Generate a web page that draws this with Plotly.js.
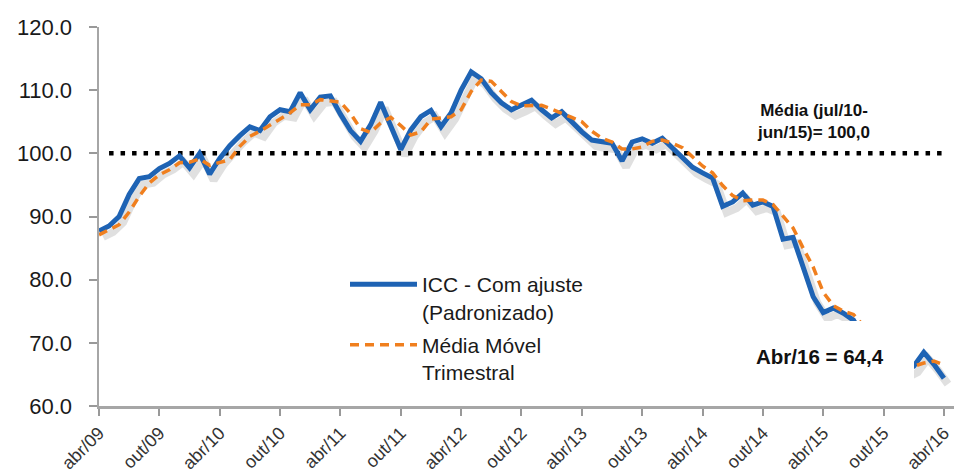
<!DOCTYPE html>
<html>
<head>
<meta charset="utf-8">
<script src="https://cdn.plot.ly/plotly-3.0.1.min.js"></script>
<style>html,body{margin:0;padding:0;background:#fff;}#chart{width:957px;height:475px;}</style>
</head>
<body>
<div id="chart"></div>
<script>
// Monthly categories from abr/09 to abr/16
const monthNames = ['jan','fev','mar','abr','mai','jun','jul','ago','set','out','nov','dez'];
const months = [];
for (let i = 0; i < 85; i++) {
  const mi = (3 + i) % 12;
  const yy = 9 + Math.floor((3 + i) / 12);
  months.push(monthNames[mi] + '/' + (yy < 10 ? '0' + yy : '' + yy));
}
const tickLabels = ['abr/09','out/09','abr/10','out/10','abr/11','out/11','abr/12','out/12','abr/13','out/13','abr/14','out/14','abr/15','out/15','abr/16'];

const iccAjuste = [87.7,88.5,90.0,93.5,96.0,96.3,97.6,98.4,99.6,97.7,
  100.0,96.7,99.2,101.2,102.8,104.2,103.6,105.8,106.9,106.6,
  109.6,106.9,108.9,109.1,106.2,103.6,101.9,104.5,108.1,104.5,
  100.6,103.7,105.8,106.8,104.2,106.4,110.0,112.9,111.8,109.6,
  108.0,106.9,107.6,108.4,106.9,105.6,106.6,105.0,103.4,102.1,
  101.8,101.6,98.8,101.8,102.3,101.6,102.4,100.9,99.4,97.8,
  96.9,96.1,91.6,92.3,93.7,91.8,92.3,91.6,86.4,86.7,
  82.0,77.3,74.8,75.5,74.7,73.6,70.8,69.8,68.3,67.0,
  65.5,66.3,68.5,66.6,64.4];

const mediaMovel = [87.1,87.9,88.7,90.7,93.2,95.3,96.6,97.4,98.5,98.6,
  99.1,98.1,98.6,99.0,101.1,102.7,103.5,104.5,105.4,106.4,
  107.7,107.7,108.5,108.3,108.1,106.3,103.9,103.3,104.8,105.7,
  104.4,102.9,103.4,105.4,105.6,105.8,106.9,109.8,111.6,111.4,
  109.8,108.2,107.5,107.6,107.6,107.0,106.4,105.7,105.0,103.5,
  102.4,101.8,100.7,100.7,101.0,101.9,102.1,101.6,100.9,99.4,
  98.0,96.9,94.9,93.3,92.5,92.6,92.6,91.9,90.1,88.2,
  85.0,82.0,78.0,75.9,75.0,74.5,72.7,71.4,69.6,68.4,
  67.0,66.3,66.8,67.1,66.5];

const mediaRef = 100.0;

const BLUE = '#1E63B4';
const ORANGE = '#F07F1E';
const fontFam = 'Arial, "Liberation Sans", sans-serif';

const traces = [
  { // reference line (bottom layer)
    x: [months[1], months[months.length - 1]],
    y: [mediaRef, mediaRef],
    type: 'scatter', mode: 'lines',
    line: {color: '#000', width: 4.5, dash: '4.5px,7px'},
    showlegend: false, hoverinfo: 'skip',
    xaxis: 'x', yaxis: 'y'
  },
  { // shadow of the main line
    x: months, y: iccAjuste,
    type: 'scatter', mode: 'lines',
    line: {color: 'rgba(0,0,0,0.12)', width: 8},
    showlegend: false, hoverinfo: 'skip',
    xaxis: 'x2', yaxis: 'y2'
  },
  {
    x: months, y: iccAjuste,
    name: 'ICC - Com ajuste<br>(Padronizado)',
    legendgroup: 'a',
    type: 'scatter', mode: 'lines',
    line: {color: BLUE, width: 5},
    xaxis: 'x3', yaxis: 'y3'
  },
  {
    x: months, y: mediaMovel,
    name: 'Média Móvel<br>Trimestral',
    legendgroup: 'b',
    type: 'scatter', mode: 'lines',
    line: {color: ORANGE, width: 3.5, dash: '9px,6px'},
    xaxis: 'x3', yaxis: 'y3'
  }
];

const xr = [0, 85];
const yr = [60, 120];
const hiddenX = {type: 'category', categoryarray: months, visible: false, overlaying: 'x', fixedrange: true};
const hiddenY = {visible: false, overlaying: 'y', fixedrange: true};

const layout = {
  width: 957, height: 475,
  margin: {l: 99, r: 3, t: 27, b: 69},
  paper_bgcolor: '#fff', plot_bgcolor: '#fff',
  font: {family: fontFam, color: '#1a1a1a'},
  showlegend: true,
  legend: {
    x: (345 - 99) / 855, y: (406 - 264) / 379,
    xanchor: 'left', yanchor: 'top',
    bgcolor: 'rgba(255,255,255,0)',
    font: {family: fontFam, size: 21, color: '#1a1a1a'},
    valign: 'top', itemwidth: 67, tracegroupgap: 3
  },
  xaxis: {
    type: 'category', categoryarray: months, range: xr,
    tickmode: 'array', tickvals: tickLabels, ticktext: tickLabels,
    tickangle: -45, ticks: 'outside', ticklen: 7, tickwidth: 2, tickcolor: '#999',
    showline: true, linecolor: '#a6a6a6', linewidth: 2.5,
    showgrid: false, zeroline: false,
    tickfont: {family: fontFam, size: 18, color: '#333'},
    fixedrange: true
  },
  yaxis: {
    range: yr, tickmode: 'array', tickvals: [60,70,80,90,100,110,120],
    tickformat: '.1f',
    ticks: 'outside', ticklen: 8, tickwidth: 2, tickcolor: '#999',
    showline: true, linecolor: '#a6a6a6', linewidth: 2.5,
    showgrid: false, zeroline: false,
    ticklabelstandoff: 12,
    tickfont: {family: fontFam, size: 22, color: '#1a1a1a'},
    fixedrange: true
  },
  xaxis2: Object.assign({}, hiddenX, {range: [xr[0] - 0.4, xr[1] - 0.4]}),
  yaxis2: Object.assign({}, hiddenY, {range: [yr[0] + 0.95, yr[1] + 0.95]}),
  xaxis3: Object.assign({}, hiddenX, {range: xr}),
  yaxis3: Object.assign({}, hiddenY, {range: yr}),
  annotations: [
    {
      xref: 'paper', yref: 'paper',
      x: (813 - 99) / 855, y: (406 - 121) / 379,
      xanchor: 'center', yanchor: 'middle',
      text: '<b>Média (jul/10-<br>jun/15)= 100,0</b>',
      showarrow: false, align: 'center',
      font: {family: fontFam, size: 17, color: '#111'}
    },
    {
      xref: 'paper', yref: 'paper',
      x: (750 - 99) / 855, y: (406 - 355.5) / 379,
      xanchor: 'left', yanchor: 'middle',
      text: '<b>Abr/16 = 64,4</b>',
      showarrow: false, align: 'left', valign: 'middle',
      width: 152, height: 58, borderpad: 6, borderwidth: 0,
      bgcolor: '#ffffff',
      font: {family: fontFam, size: 20.5, color: '#111'}
    }
  ]
};

Plotly.newPlot('chart', traces, layout, {displayModeBar: false, staticPlot: true});
</script>
</body>
</html>
